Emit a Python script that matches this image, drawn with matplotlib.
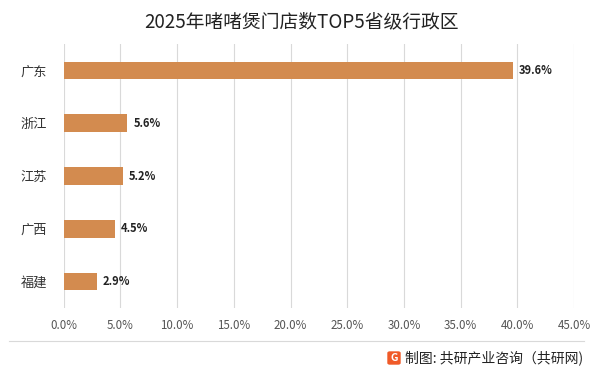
import matplotlib
matplotlib.use("Agg")
import matplotlib.pyplot as plt
from matplotlib.patches import FancyBboxPatch

plt.rcParams["font.family"] = ["Noto Sans CJK SC", "DejaVu Sans"]

provinces = ["广东", "浙江", "江苏", "广西", "福建"]
shares = [39.6, 5.6, 5.2, 4.5, 2.9]
xticks = [0, 5, 10, 15, 20, 25, 30, 35, 40, 45]

bar_color = "#D38B4F"
W, H = 601, 367

fig = plt.figure(figsize=(W / 100, H / 100), dpi=100)

# plot area in pixel terms
ax = fig.add_axes([63.7 / W, 1 - 308 / H, (574 - 63.7) / W, 264 / H])

ypos = list(range(len(provinces)))
ax.barh(ypos, shares, height=0.335, color=bar_color, zorder=3)
for y, v in zip(ypos, shares):
    ax.text(v + 0.55, y, f"{v:.1f}%", va="center", ha="left",
            fontsize=8, fontweight="bold", color="#222222")

ax.set_ylim(len(provinces) - 0.5, -0.5)
ax.set_yticks(ypos)
ax.set_yticklabels(provinces, fontsize=9.5, color="#333333")
ax.set_xlim(0, 45)
ax.set_xticks(xticks)
ax.set_xticklabels([f"{t:.1f}%" for t in xticks], fontsize=8.3, color="#555555")
ax.tick_params(axis="both", length=0)
ax.tick_params(axis="x", pad=8)
ax.tick_params(axis="y", pad=12)
ax.grid(axis="x", color="#d9d9d9", linewidth=0.8, zorder=0)
for s in ax.spines.values():
    s.set_visible(False)

fig.text(301 / W, 1 - 22 / H, "2025年啫啫煲门店数TOP5省级行政区", ha="center", va="center",
         fontsize=13.5, color="#222222")

# bottom separator and source line
fig.add_artist(plt.Line2D([9 / W, 584 / W], [1 - 341 / H] * 2,
                          color="#d9d9d9", linewidth=0.8))
logo = FancyBboxPatch((388 / W, 1 - 364 / H), 12 / W, 12 / H,
                      boxstyle="round,pad=0,rounding_size=0.003",
                      transform=fig.transFigure, color="#F05A28")
fig.add_artist(logo)
fig.text(394 / W, 1 - 358 / H, "G", ha="center", va="center",
         fontsize=7.5, fontweight="bold", color="white")
fig.text(405 / W, 1 - 357.5 / H, "制图: 共研产业咨询（共研网)", ha="left", va="center",
         fontsize=10, color="#222222")

fig.savefig("out.png", dpi=100, facecolor="white")
